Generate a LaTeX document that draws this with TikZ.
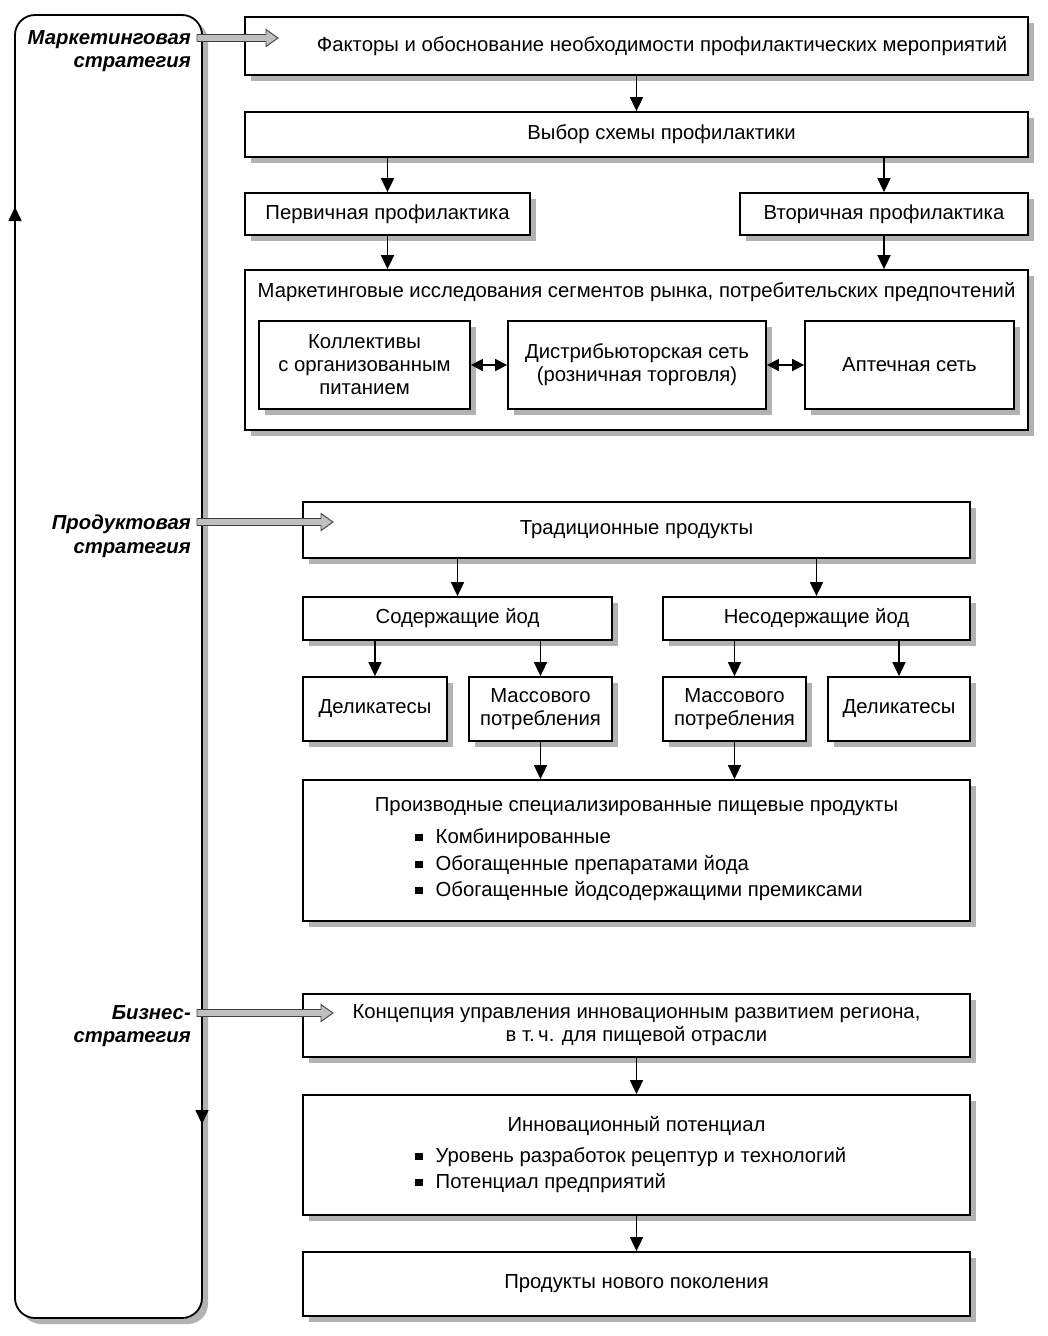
\documentclass[tikz,border=0pt]{standalone}
\usepackage{fontspec}
\setmainfont{Liberation Sans}
\usetikzlibrary{arrows.meta,shadows}
\newcommand\boxfont{\fontsize{20.3}{23}\selectfont}
\newcommand\stratfont{\fontsize{20.3}{23.5}\selectfont\bfseries\itshape}
\newcommand\blt{\rule[2pt]{7.5pt}{7.5pt}\hspace{13pt}}
\tikzset{
 bx/.style={draw, line width=1.8pt, fill=white, inner sep=0pt, align=center, font=\boxfont,
   drop shadow={shadow xshift=6pt, shadow yshift=-6pt, fill=gray!60, opacity=1}},
 txt/.style={inner sep=0pt, font=\boxfont, align=center},
 arr/.style={line width=1.7pt, -{Triangle[length=14pt,width=13pt]}},
 darr/.style={line width=1.7pt, {Triangle[length=12pt,width=12pt]}-{Triangle[length=12pt,width=12pt]}},
 strat/.style={font=\stratfont, align=right, anchor=east, inner sep=0pt},
 garr/.style={fill=gray!50, draw=black!75, line width=0.9pt},
}
\newcommand\grayarrow[3]{% x1, x2, y
  \path[garr] (#1,#3-3.5) -- (#2-12,#3-3.5) -- (#2-12,#3-8.5) -- (#2,#3) -- (#2-12,#3+8.5) -- (#2-12,#3+3.5) -- (#1,#3+3.5) -- cycle;}
\begin{document}
\begin{tikzpicture}[x=1pt,y=-1pt]
\useasboundingbox (0,0) rectangle (1048,1336);
\fill[white] (0,0) rectangle (1048,1336);

% left loop
\node[draw, line width=1.8pt, rounded corners=20pt, fill=white, inner sep=0pt,
  minimum width=187pt, minimum height=1303pt,
  drop shadow={shadow xshift=6pt, shadow yshift=-6pt, fill=gray!60, opacity=1}] (loop) at (108.5,666.5) {};
\coordinate (upA) at (15,245);
\coordinate (upB) at (15,207);
\coordinate (dnA) at (202,1090);
\coordinate (dnB) at (202,1124);
\draw[arr] (upA) -- (upB);
\draw[arr] (dnA) -- (dnB);

% marketing block
\node[bx, minimum width=783pt, minimum height=58pt] (f) at (636.5,46) {};
\node[txt] (ft) at (662,46) {Факторы и обоснование необходимости профилактических мероприятий};
\node[bx, minimum width=783pt, minimum height=45pt] (v) at (636.5,134.5) {};
\node[txt] (vt) at (661.5,134) {Выбор схемы профилактики};
\node[bx, minimum width=285pt, minimum height=42pt] (p) at (387.5,214) {Первичная профилактика};
\node[bx, minimum width=288pt, minimum height=42pt] (s) at (884,214) {Вторичная профилактика};
\node[bx, minimum width=783pt, minimum height=160pt] (m) at (636.5,350) {};
\node[txt] (mt) at (636.5,292) {Маркетинговые исследования сегментов рынка, потребительских предпочтений};
\node[bx, minimum width=211pt, minimum height=88pt] (k) at (364.5,365) {Коллективы\\с организованным\\питанием};
\node[bx, minimum width=258pt, minimum height=88pt] (d) at (637,365) {Дистрибьюторская сеть\\(розничная торговля)};
\node[bx, minimum width=209pt, minimum height=88pt] (a) at (909.5,365) {Аптечная сеть};

\draw[arr] (f) -- (v);
\draw[arr] (v.south -| p.north) -- (p.north);
\draw[arr] (v.south -| s.north) -- (s.north);
\draw[arr] (p.south) -- (p.south |- m.north);
\draw[arr] (s.south) -- (s.south |- m.north);
\draw[darr] (k.east) -- (d.west);
\draw[darr] (d.east) -- (a.west);

% product block
\node[bx, minimum width=667pt, minimum height=56pt] (t) at (636.5,530) {Традиционные продукты};
\node[bx, minimum width=309pt, minimum height=43pt] (c1) at (457.5,618.5) {Содержащие йод};
\node[bx, minimum width=307pt, minimum height=43pt] (c2) at (816.5,618.5) {Несодержащие йод};
\node[bx, minimum width=144pt, minimum height=64pt] (d1) at (375,709) {Деликатесы};
\node[bx, minimum width=143pt, minimum height=64pt] (m1) at (540.5,709) {Массового\\потребления};
\node[bx, minimum width=143pt, minimum height=64pt] (m2) at (734.5,709) {Массового\\потребления};
\node[bx, minimum width=142pt, minimum height=64pt] (d2) at (899,709) {Деликатесы};
\node[bx, minimum width=667pt, minimum height=141pt] (pr) at (636.5,850.5) {};
\node[txt] (prt) at (636.5,807) {Производные специализированные пищевые продукты};
\node[txt, anchor=west] (pr1) at (415,838) {\blt Комбинированные};
\node[txt, anchor=west] (pr2) at (415,865) {\blt Обогащенные препаратами йода};
\node[txt, anchor=west] (pr3) at (415,891) {\blt Обогащенные йодсодержащими премиксами};

\draw[arr] (t.south -| c1.north) -- (c1.north);
\draw[arr] (t.south -| c2.north) -- (c2.north);
\draw[arr] (c1.south -| d1.north) -- (d1.north);
\draw[arr] (c1.south -| m1.north) -- (m1.north);
\draw[arr] (c2.south -| m2.north) -- (m2.north);
\draw[arr] (c2.south -| d2.north) -- (d2.north);
\draw[arr] (m1.south) -- (m1.south |- pr.north);
\draw[arr] (m2.south) -- (m2.south |- pr.north);

% business block
\node[bx, minimum width=667pt, minimum height=63pt] (kc) at (636.5,1025.5) {Концепция управления инновационным развитием региона,\\в т.\,ч. для пищевой отрасли};
\node[bx, minimum width=667pt, minimum height=120pt] (inn) at (636.5,1155) {};
\node[txt] (innt) at (636.5,1126) {Инновационный потенциал};
\node[txt, anchor=west] (in1) at (415,1157) {\blt Уровень разработок рецептур и технологий};
\node[txt, anchor=west] (in2) at (415,1183) {\blt Потенциал предприятий};
\node[bx, minimum width=667pt, minimum height=64pt] (np) at (636.5,1284) {Продукты нового поколения};

\draw[arr] (kc) -- (inn);
\draw[arr] (inn) -- (np);

% strategy labels
\node[strat] (s1) at (191,51) {Маркетинговая\\стратегия};
\node[strat] (s2) at (191,536) {Продуктовая\\стратегия};
\node[strat] (s3) at (191,1026) {Бизнес-\\стратегия};

% gray arrows
\grayarrow{197}{278}{38}
\grayarrow{197}{333}{522}
\grayarrow{197}{333}{1013}
\end{tikzpicture}
\end{document}
